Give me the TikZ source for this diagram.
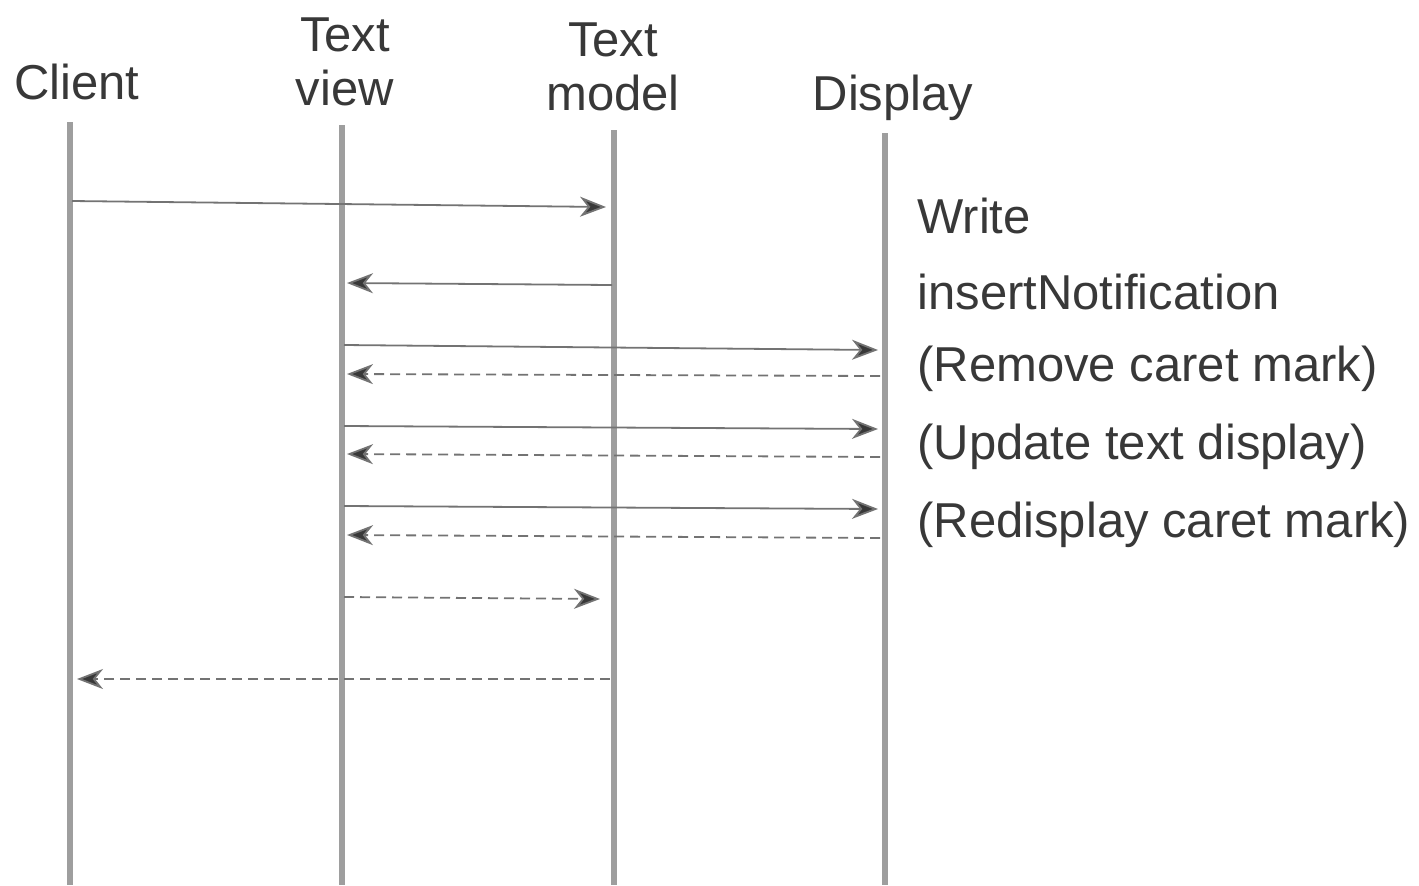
\documentclass[tikz,border=0pt]{standalone}
\usepackage{fontspec}
\setmainfont{Liberation Sans}
\usetikzlibrary{arrows.meta}
\definecolor{life}{gray}{0.62}
\definecolor{msg}{gray}{0.45}
\definecolor{txt}{gray}{0.22}
\tikzset{
  lifeline/.style={draw=life, line width=2.6pt},
  head/.style={font=\fontsize{24.5}{29}\selectfont, text=txt, align=center, inner sep=0pt},
  lbl/.style={font=\fontsize{24.5}{29}\selectfont, text=txt, anchor=west, inner sep=0pt},
  call/.style={draw=msg, line width=0.9pt, -{Stealth[length=13pt,width=10pt,inset=4pt,fill=txt]}},
  reply/.style={call, dash pattern=on 5pt off 3pt}
}
\begin{document}
\begin{tikzpicture}[x=0.5pt,y=-0.5pt]
\useasboundingbox (0,0) rectangle (1419,885);
% heads
\node[head] (hc) at (77,82) {Client};
\node[head] (hv) at (345,62) {Text\\[-2pt]view};
\node[head] (hm) at (613,67) {Text\\[-2pt]model};
\node[head] (hd) at (893,98) {Display};
% lifelines
\coordinate (c0) at (70,122); \coordinate (c1) at (70,885);
\coordinate (v0) at (342,125); \coordinate (v1) at (342,885);
\coordinate (m0) at (614,130); \coordinate (m1) at (614,885);
\coordinate (d0) at (885,133); \coordinate (d1) at (885,885);
\draw[lifeline] (c0) -- (c1);
\draw[lifeline] (v0) -- (v1);
\draw[lifeline] (m0) -- (m1);
\draw[lifeline] (d0) -- (d1);
% message points
\coordinate (a1) at (72,201);  \coordinate (b1) at (606,207);
\coordinate (a2) at (612,285); \coordinate (b2) at (347,283);
\coordinate (a3) at (344,345); \coordinate (b3) at (878,350);
\coordinate (a4) at (880,376); \coordinate (b4) at (347,374);
\coordinate (a5) at (344,426); \coordinate (b5) at (878,429);
\coordinate (a6) at (880,457); \coordinate (b6) at (347,454);
\coordinate (a7) at (344,506); \coordinate (b7) at (878,509);
\coordinate (a8) at (880,538); \coordinate (b8) at (347,535);
\coordinate (a9) at (344,597); \coordinate (b9) at (600,599);
\coordinate (a10) at (610,679); \coordinate (b10) at (77,679);
\draw[call] (a1) -- (b1);
\draw[call] (a2) -- (b2);
\draw[call] (a3) -- (b3);
\draw[reply] (a4) -- (b4);
\draw[call] (a5) -- (b5);
\draw[reply] (a6) -- (b6);
\draw[call] (a7) -- (b7);
\draw[reply] (a8) -- (b8);
\draw[reply] (a9) -- (b9);
\draw[reply] (a10) -- (b10);
% labels
\node[lbl] (l1) at (917,216) {Write};
\node[lbl] (l2) at (917,292) {insertNotification};
\node[lbl] (l3) at (917,369) {(Remove caret mark)};
\node[lbl] (l4) at (917,447) {(Update text display)};
\node[lbl] (l5) at (917,525) {(Redisplay caret mark)};
\end{tikzpicture}
\end{document}
